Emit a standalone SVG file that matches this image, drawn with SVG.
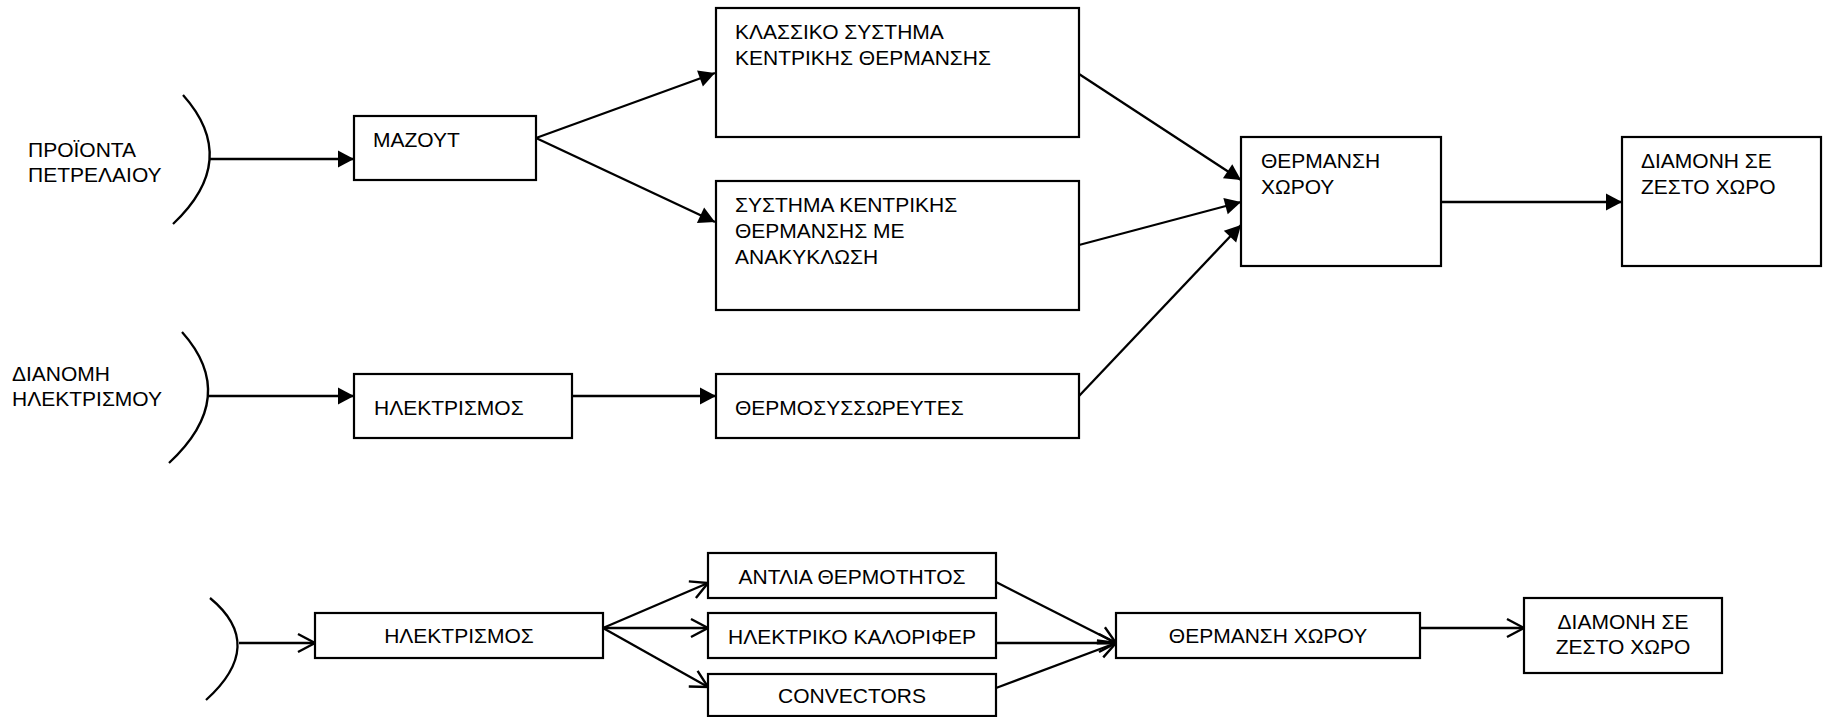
<svg xmlns="http://www.w3.org/2000/svg" width="1826" height="717" viewBox="0 0 1826 717">
<defs>
<style>
text{font-family:"Liberation Sans",Arial,sans-serif;font-size:21px;fill:#000}
.box{fill:#fff;stroke:#000;stroke-width:2.2}
.c{text-anchor:middle}
.ln{fill:none;stroke:#000;stroke-width:2.3}
.fa{marker-end:url(#fill)}
.oa{marker-end:url(#open)}
</style>
<marker id="fill" markerUnits="userSpaceOnUse" markerWidth="18" markerHeight="18" refX="16" refY="8.5" orient="auto" overflow="visible">
<path d="M0,0 L16,8.5 L0,17 z" fill="#000"/>
</marker>
<marker id="open" markerUnits="userSpaceOnUse" markerWidth="20" markerHeight="20" refX="17" refY="9" orient="auto" overflow="visible">
<path d="M0,0 L17,9 L0,18" fill="none" stroke="#000" stroke-width="2.4"/>
</marker>
</defs>
<rect width="1826" height="717" fill="#fff"/>

<g id="connectors">
<path class="ln" d="M183,95 Q241,160 173,224"/>
<path class="ln" d="M182,332 Q240,397 169,463"/>
<path class="ln" d="M210,598 Q267,645 206,700"/>
<line class="ln fa" x1="209" y1="159" x2="354" y2="159"/>
<line class="ln fa" x1="536" y1="138" x2="715" y2="73"/>
<line class="ln fa" x1="536" y1="138" x2="715" y2="222"/>
<line class="ln fa" x1="1079" y1="74" x2="1241" y2="180"/>
<line class="ln fa" x1="1079" y1="245" x2="1241" y2="202"/>
<line class="ln fa" x1="1079" y1="396" x2="1241" y2="225"/>
<line class="ln fa" x1="1441" y1="202" x2="1622" y2="202"/>
<line class="ln fa" x1="209" y1="396" x2="354" y2="396"/>
<line class="ln fa" x1="572" y1="396" x2="716" y2="396"/>
<line class="ln oa" x1="239" y1="643" x2="315" y2="643"/>
<line class="ln oa" x1="603" y1="628" x2="708" y2="583"/>
<line class="ln oa" x1="603" y1="628" x2="708" y2="628"/>
<line class="ln oa" x1="603" y1="628" x2="708" y2="687"/>
<line class="ln oa" x1="996" y1="582" x2="1116" y2="643"/>
<line class="ln oa" x1="996" y1="643" x2="1116" y2="643"/>
<line class="ln oa" x1="996" y1="688" x2="1116" y2="643"/>
<line class="ln oa" x1="1420" y1="628" x2="1524" y2="628"/>
</g>

<g id="src-petroleum">
<text x="28" y="157">ΠΡΟΪΟΝΤΑ</text>
<text x="28" y="182">ΠΕΤΡΕΛΑΙΟΥ</text>
</g>
<g id="src-electricity">
<text x="12" y="381">ΔΙΑΝΟΜΗ</text>
<text x="12" y="406">ΗΛΕΚΤΡΙΣΜΟΥ</text>
</g>

<g id="n-mazout">
<rect class="box" x="354" y="116" width="182" height="64"/>
<text x="373" y="147">ΜΑΖΟΥΤ</text>
</g>
<g id="n-classic">
<rect class="box" x="716" y="8" width="363" height="129"/>
<text x="735" y="39">ΚΛΑΣΣΙΚΟ ΣΥΣΤΗΜΑ</text>
<text x="735" y="65">ΚΕΝΤΡΙΚΗΣ ΘΕΡΜΑΝΣΗΣ</text>
</g>
<g id="n-recirc">
<rect class="box" x="716" y="181" width="363" height="129"/>
<text x="735" y="212">ΣΥΣΤΗΜΑ ΚΕΝΤΡΙΚΗΣ</text>
<text x="735" y="238">ΘΕΡΜΑΝΣΗΣ ΜΕ</text>
<text x="735" y="264">ΑΝΑΚΥΚΛΩΣΗ</text>
</g>
<g id="n-elec1">
<rect class="box" x="354" y="374" width="218" height="64"/>
<text x="374" y="415">ΗΛΕΚΤΡΙΣΜΟΣ</text>
</g>
<g id="n-storage">
<rect class="box" x="716" y="374" width="363" height="64"/>
<text x="735" y="415">ΘΕΡΜΟΣΥΣΣΩΡΕΥΤΕΣ</text>
</g>
<g id="n-heating1">
<rect class="box" x="1241" y="137" width="200" height="129"/>
<text x="1261" y="168">ΘΕΡΜΑΝΣΗ</text>
<text x="1261" y="194">ΧΩΡΟΥ</text>
</g>
<g id="n-stay1">
<rect class="box" x="1622" y="137" width="199" height="129"/>
<text x="1641" y="168">ΔΙΑΜΟΝΗ ΣΕ</text>
<text x="1641" y="194">ΖΕΣΤΟ ΧΩΡΟ</text>
</g>

<g id="n-elec2">
<rect class="box" x="315" y="613" width="288" height="45"/>
<text class="c" x="459" y="643">ΗΛΕΚΤΡΙΣΜΟΣ</text>
</g>
<g id="n-heatpump">
<rect class="box" x="708" y="553" width="288" height="45"/>
<text class="c" x="852" y="584">ΑΝΤΛΙΑ ΘΕΡΜΟΤΗΤΟΣ</text>
</g>
<g id="n-radiator">
<rect class="box" x="708" y="613" width="288" height="45"/>
<text class="c" x="852" y="644">ΗΛΕΚΤΡΙΚΟ ΚΑΛΟΡΙΦΕΡ</text>
</g>
<g id="n-convectors">
<rect class="box" x="708" y="674" width="288" height="42"/>
<text class="c" x="852" y="703">CONVECTORS</text>
</g>
<g id="n-heating2">
<rect class="box" x="1116" y="613" width="304" height="45"/>
<text class="c" x="1268" y="643">ΘΕΡΜΑΝΣΗ ΧΩΡΟΥ</text>
</g>
<g id="n-stay2">
<rect class="box" x="1524" y="598" width="198" height="75"/>
<text class="c" x="1623" y="629">ΔΙΑΜΟΝΗ ΣΕ</text>
<text class="c" x="1623" y="654">ΖΕΣΤΟ ΧΩΡΟ</text>
</g>
</svg>
